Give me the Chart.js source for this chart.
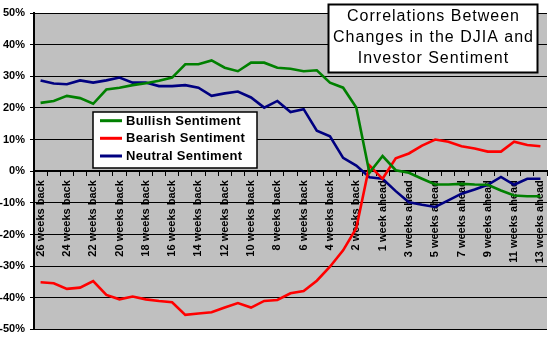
<!DOCTYPE html>
<html>
<head>
<meta charset="utf-8">
<title>Correlations Between Changes in the DJIA and Investor Sentiment</title>
<script src="https://cdn.jsdelivr.net/npm/chart.js@4.4.1/dist/chart.umd.min.js"></script>
<style>
  body { margin: 0; background: #fff; }
  #wrap { width: 550px; height: 341px; }
</style>
</head>
<body>
<div id="wrap"><canvas id="sentChart" width="550" height="341"></canvas></div>
<script>
// ------------------- Data -------------------
const weeks = [
  "26 weeks back", "25 weeks back", "24 weeks back", "23 weeks back", "22 weeks back",
  "21 weeks back", "20 weeks back", "19 weeks back", "18 weeks back", "17 weeks back",
  "16 weeks back", "15 weeks back", "14 weeks back", "13 weeks back", "12 weeks back",
  "11 weeks back", "10 weeks back", "9 weeks back", "8 weeks back", "7 weeks back",
  "6 weeks back", "5 weeks back", "4 weeks back", "3 weeks back", "2 weeks back",
  "1 week back", "1 week ahead", "2 weeks ahead", "3 weeks ahead", "4 weeks ahead",
  "5 weeks ahead", "6 weeks ahead", "7 weeks ahead", "8 weeks ahead", "9 weeks ahead",
  "10 weeks ahead", "11 weeks ahead", "12 weeks ahead", "13 weeks ahead"
];

const bullish = [
  21.6, 22.2, 23.8, 23.1, 21.3, 25.8, 26.4, 27.2, 27.8, 28.6,
  29.6, 33.8, 33.8, 35.0, 32.7, 31.6, 34.3, 34.3, 32.7, 32.4,
  31.6, 31.9, 28.0, 26.4, 20.1, -0.5, 4.8, 0.3, -0.5, -2.4,
  -4.2, -4.2, -4.0, -4.2, -4.3, -6.1, -7.7, -7.9, -7.9
];

const bearish = [
  -35.1, -35.4, -37.2, -36.8, -34.7, -39.1, -40.5, -39.6, -40.5, -41.0,
  -41.4, -45.4, -45.0, -44.6, -43.1, -41.7, -43.1, -41.0, -40.7, -38.6,
  -37.9, -34.6, -30.2, -25.0, -18.0, 1.8, -2.4, 4.1, 5.6, 8.1,
  10.0, 9.3, 7.9, 7.2, 6.2, 6.2, 9.3, 8.3, 7.9
];

const neutral = [
  28.7, 27.7, 27.5, 28.7, 28.0, 28.7, 29.6, 28.0, 28.0, 26.9,
  26.9, 27.2, 26.4, 23.8, 24.6, 25.2, 23.3, 20.1, 22.2, 18.7,
  19.6, 12.8, 11.0, 4.2, 1.8, -1.9, -2.4, -6.3, -9.8, -10.6,
  -11.3, -9.2, -7.1, -5.8, -4.3, -1.8, -4.3, -2.4, -2.4
];

const titleLines = ["Correlations Between", "Changes in the DJIA and", "Investor Sentiment"];

// ------------------- Plugins (plot fill, legend box, title box) -------------------
const plotFill = {
  id: "plotFill",
  beforeDraw(chart) {
    const a = chart.chartArea;
    const c = chart.ctx;
    c.save();
    c.fillStyle = "#c0c0c0";
    c.fillRect(a.left, a.top, a.right - a.left, a.bottom - a.top);
    c.restore();
  }
};

const boxes = {
  id: "boxes",
  afterDraw(chart) {
    const c = chart.ctx;
    c.save();

    // legend
    c.fillStyle = "#fff";
    c.strokeStyle = "#000";
    c.lineWidth = 1.5;
    c.fillRect(93, 112, 164, 56);
    c.strokeRect(93, 112, 164, 56);
    c.font = "bold 13px Arial, 'Liberation Sans', sans-serif";
    c.letterSpacing = "0.3px";
    c.textBaseline = "middle";
    c.textAlign = "left";
    const rows = [120.7, 138.3, 156];
    chart.data.datasets.forEach((ds, i) => {
      c.strokeStyle = ds.borderColor;
      c.lineWidth = 3;
      c.beginPath();
      c.moveTo(100, rows[i]);
      c.lineTo(122, rows[i]);
      c.stroke();
      c.fillStyle = "#000";
      c.fillText(ds.label, 126, rows[i] + 0.5);
    });

    // title
    c.fillStyle = "#fff";
    c.strokeStyle = "#000";
    c.lineWidth = 2;
    c.fillRect(328.5, 4.5, 209, 68);
    c.strokeRect(328.5, 4.5, 209, 68);
    c.fillStyle = "#000";
    c.font = "16px Arial, 'Liberation Sans', sans-serif";
    c.letterSpacing = "1px";
    c.textAlign = "center";
    titleLines.forEach((t, i) => {
      c.fillText(t, 433.5, 17 + i * 20.8);
    });
    c.restore();
  }
};

// ------------------- Chart -------------------
const ctx = document.getElementById("sentChart").getContext("2d");
new Chart(ctx, {
  type: "line",
  data: {
    labels: weeks,
    datasets: [
      { label: "Bullish Sentiment", data: bullish, borderColor: "#008000" },
      { label: "Bearish Sentiment", data: bearish, borderColor: "#ff0000" },
      { label: "Neutral Sentiment", data: neutral, borderColor: "#000080" }
    ]
  },
  options: {
    responsive: false,
    animation: false,
    layout: { padding: { top: 13, right: 3, bottom: 9, left: 0 } },
    elements: {
      line: { borderWidth: 2.6, tension: 0, fill: false },
      point: { radius: 0 }
    },
    plugins: {
      legend: { display: false },
      tooltip: { enabled: false }
    },
    scales: {
      x: {
        position: { y: 0 },
        offset: true,
        afterFit: s => { s.paddingLeft = 0; s.paddingRight = 0; },
        grid: { drawOnChartArea: false, drawTicks: true, tickLength: 4, color: "#000", offset: true },
        border: { color: "#000", width: 2 },
        ticks: {
          autoSkip: false,
          minRotation: 90,
          maxRotation: 90,
          padding: 5,
          color: "#000",
          font: { family: "Arial, 'Liberation Sans', sans-serif", size: 11, weight: "bold" },
          callback: function(v, i) { return i % 2 === 0 ? this.getLabelForValue(v) : ""; }
        }
      },
      y: {
        min: -50,
        max: 50,
        afterFit: s => { s.width = 34; },
        grid: { color: "#000", lineWidth: 1, tickLength: 4 },
        border: { color: "#000", width: 2 },
        ticks: {
          stepSize: 10,
          padding: 5,
          color: "#000",
          font: { family: "Arial, 'Liberation Sans', sans-serif", size: 11, weight: "bold" },
          callback: v => v + "%"
        }
      }
    }
  },
  plugins: [plotFill, boxes]
});
</script>
</body>
</html>
